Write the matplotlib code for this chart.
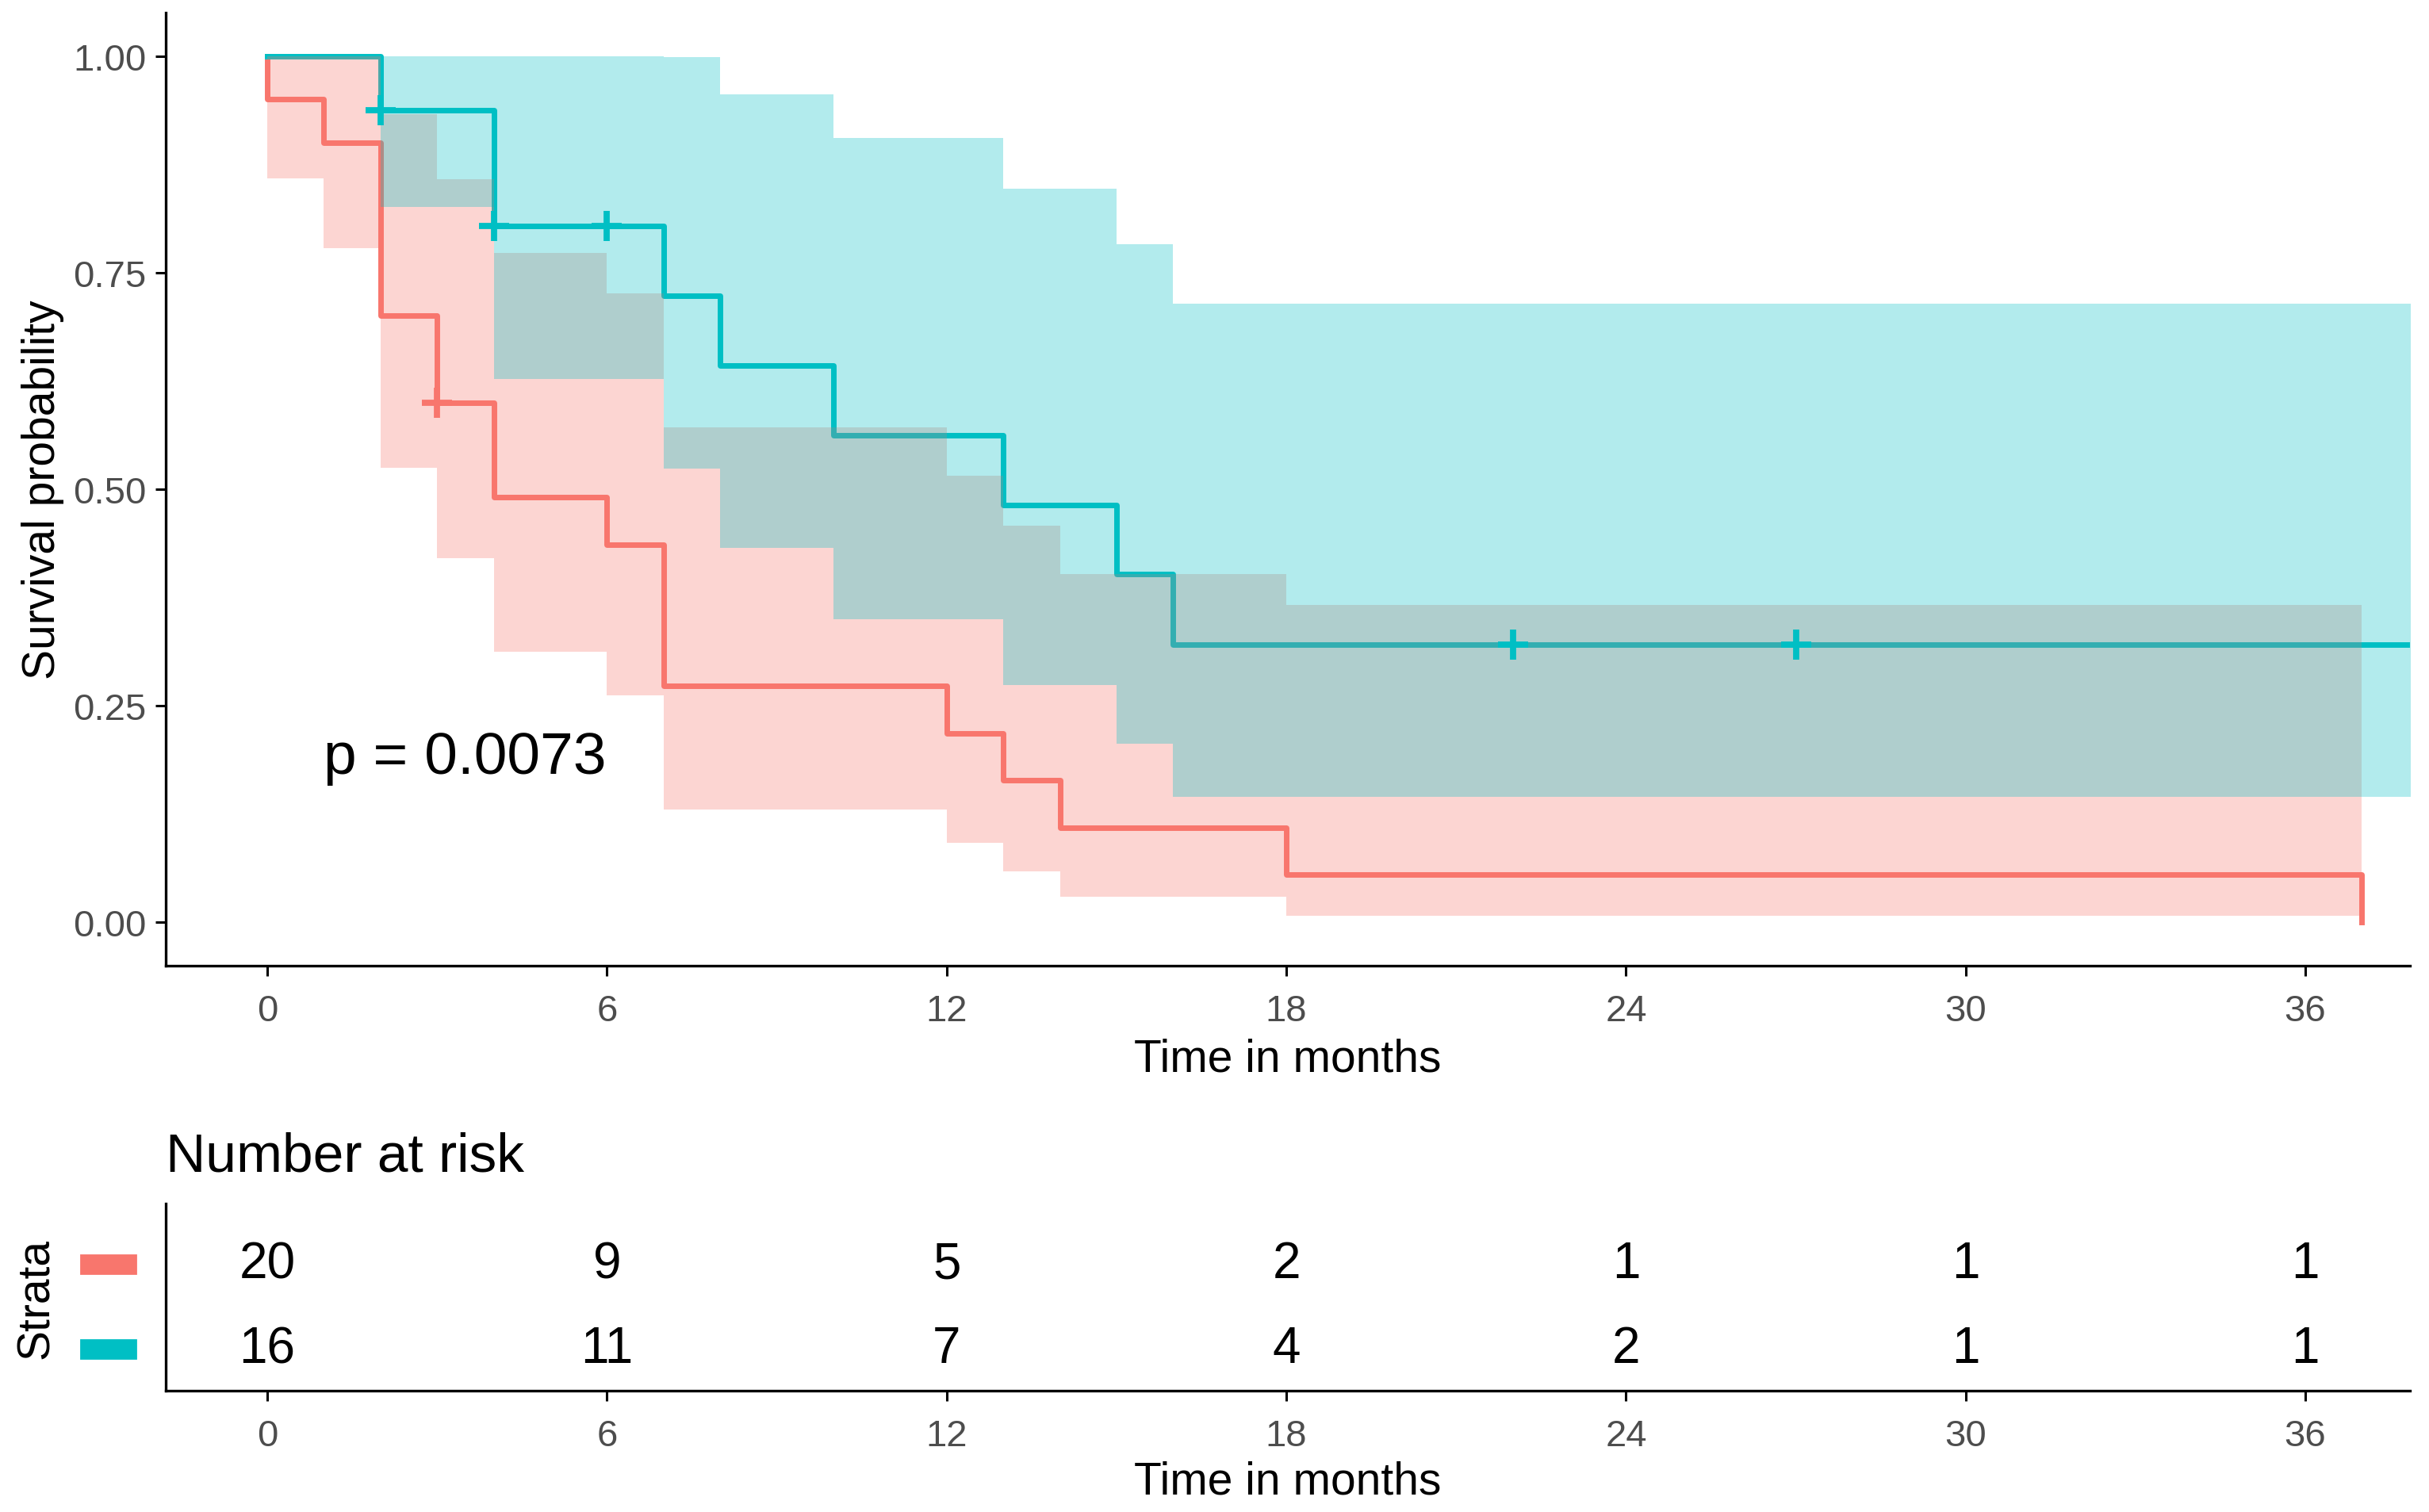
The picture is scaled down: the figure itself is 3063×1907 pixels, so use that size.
import numpy as np
import matplotlib
matplotlib.use("Agg")
import matplotlib.pyplot as plt
import matplotlib.transforms as mtransforms
from matplotlib.patches import Rectangle

plt.rcParams['font.family'] = ['Liberation Sans', 'DejaVu Sans']

# --- dados ---
red_time = [0, 0, 1, 2, 3, 4, 6, 7, 12, 13, 14, 18, 37]
red_surv = [1.0, 0.95, 0.90, 0.70, 0.60, 0.491, 0.436, 0.273, 0.218, 0.164, 0.109, 0.055, 0.0]
red_upper = [1.0, 1.0, 1.0, 0.933, 0.858, 0.773, 0.726, 0.571, 0.516, 0.458, 0.402, 0.366, 0.366]
red_lower = [1.0, 0.859, 0.778, 0.525, 0.420, 0.312, 0.262, 0.130, 0.092, 0.059, 0.030, 0.008, 0.008]
red_cens_t = [3]
red_cens_s = [0.60]

teal_time = [0, 2, 4, 7, 8, 10, 13, 15, 16, 40]
teal_surv = [1.0, 0.9375, 0.804, 0.723, 0.643, 0.5625, 0.482, 0.402, 0.321, 0.321]
teal_upper = [1.0, 1.0, 1.0, 0.999, 0.956, 0.905, 0.847, 0.783, 0.714, 0.714]
teal_lower = [1.0, 0.826, 0.627, 0.524, 0.432, 0.350, 0.274, 0.206, 0.145, 0.145]
teal_cens_t = [2, 4, 6, 22, 27]
teal_cens_s = [0.9375, 0.804, 0.804, 0.321, 0.321]

risk_times = [0, 6, 12, 18, 24, 30, 36]
risk_red = [20, 9, 5, 2, 1, 1, 1]
risk_teal = [16, 11, 7, 4, 2, 1, 1]

RED = '#F8766D'
TEAL = '#00BFC4'
TICKC = '#4D4D4D'

fig = plt.figure(figsize=(15.315, 9.54), dpi=200)
ax = fig.add_axes([0.0681, 0.3611, 0.9241, 0.630])

# linhas primeiro, faixas de confiança por cima (como no survminer)
ax.step(red_time, red_surv, where='post', color=RED, lw=2.5, zorder=1)
ax.step(teal_time, teal_surv, where='post', color=TEAL, lw=2.5, zorder=1)
ax.fill_between(red_time, red_lower, red_upper, step='post', color=RED, alpha=0.3, lw=0, zorder=2)
ax.fill_between(teal_time, teal_lower, teal_upper, step='post', color=TEAL, alpha=0.3, lw=0, zorder=2)
ax.plot(red_cens_t, red_cens_s, '+', color=RED, ms=14, mew=2.8, zorder=3)
ax.plot(teal_cens_t, teal_cens_s, '+', color=TEAL, ms=14, mew=2.8, zorder=3)

ax.text(0.99, 0.19, 'p = 0.0073', fontsize=27, ha='left', va='center')

ax.set_xlim(-1.8, 37.85)
ax.set_ylim(-0.05, 1.05)
ax.set_xticks(risk_times)
ax.set_yticks([0, 0.25, 0.5, 0.75, 1.0])
ax.set_yticklabels(['0.00', '0.25', '0.50', '0.75', '1.00'])
for s in ['top', 'right']:
    ax.spines[s].set_visible(False)
for s in ['left', 'bottom']:
    ax.spines[s].set_linewidth(1.2)
ax.tick_params(length=4.7, width=1.1, labelsize=17, labelcolor=TICKC, pad=4)
ax.tick_params(axis='x', pad=8)
ax.set_xlabel('Time in months', fontsize=20.5, labelpad=4)
ax.set_ylabel('Survival probability', fontsize=20.5, labelpad=4)

# tabela de número em risco
ax2 = fig.add_axes([0.0681, 0.0802, 0.9241, 0.1237])
for t, r, g in zip(risk_times, risk_red, risk_teal):
    ax2.text(t, 1, str(r), fontsize=23, ha='center', va='center')
    ax2.text(t, 0, str(g), fontsize=23, ha='center', va='center')
ax2.set_xlim(-1.8, 37.85)
ax2.set_ylim(-0.49, 1.71)
ax2.set_xticks(risk_times)
ax2.set_yticks([])
for s in ['top', 'right']:
    ax2.spines[s].set_visible(False)
for s in ['left', 'bottom']:
    ax2.spines[s].set_linewidth(1.2)
ax2.tick_params(length=4.7, width=1.1, labelsize=17, labelcolor=TICKC, pad=8)
ax2.set_xlabel('Time in months', fontsize=20.5, labelpad=3)

fig.text(0.0681, 0.2254, 'Number at risk', fontsize=25, ha='left', va='baseline')

tr = mtransforms.blended_transform_factory(fig.transFigure, ax2.transData)
fig.patches.append(Rectangle((0.0333, 1 - 0.107), 0.0225, 0.214, transform=tr, color=RED, figure=fig))
fig.patches.append(Rectangle((0.0333, 0 - 0.107), 0.0225, 0.214, transform=tr, color=TEAL, figure=fig))
fig.text(0.015, 0.1415, 'Strata', fontsize=20.5, rotation=90, ha='center', va='center')

fig.savefig('out.png', dpi=200)
